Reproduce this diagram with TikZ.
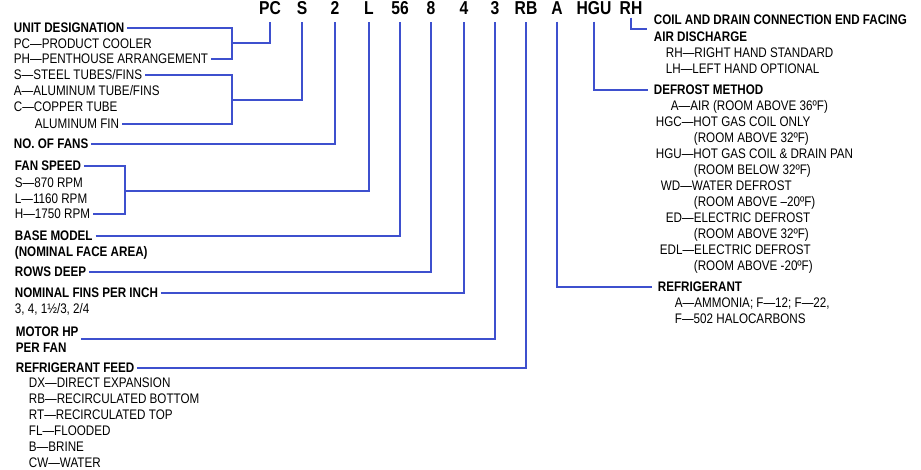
\documentclass[tikz,border=0pt]{standalone}
\usepackage{fontspec}
\setmainfont{Liberation Sans}[FakeStretch=0.84]
\usepackage{tikz}
\usetikzlibrary{calc}
\definecolor{LeadBlue}{RGB}{62,80,206}

\begin{document}
\begin{tikzpicture}[x=0.75pt, y=-0.75pt,
    every node/.style={font=\fontsize{10.4}{12}\selectfont, inner sep=0pt, text height=7.45pt, text depth=0pt},
    item/.style={anchor=west, outer xsep=2.2pt},
    head/.style={item, font=\fontsize{10.4}{12}\selectfont\bfseries},
    code/.style={anchor=base, font=\fontsize{14}{16}\selectfont\bfseries, outer ysep=5pt},
    lead/.style={draw=LeadBlue, line width=1.4pt}]
\useasboundingbox (0,0) rectangle (921,470);
% model number
\foreach \x/\lab/\nm in {270/PC/pcCode, 302/S/sCode, 335/2/twoCode, 369/L/lCode,
    400/56/fsCode, 431/8/eightCode, 464/4/fourCode, 495/3/threeCode,
    526/RB/rbCode, 557/A/aCode, 594/HGU/hguCode, 631/RH/rhCode}
    \node[code] (\nm) at (\x,15) {\lab};
% left column
\node[head] (unitHead) at (11,28) {UNIT DESIGNATION};
\node[item] (pcItem) at (11,44) {PC—PRODUCT COOLER};
\node[item] (phItem) at (11,59) {PH—PENTHOUSE ARRANGEMENT};
\node[item] (steelItem) at (11,75) {S—STEEL TUBES/FINS};
\node[item] (aluItem) at (11,91) {A—ALUMINUM TUBE/FINS};
\node[item] (copperItem) at (11,107) {C—COPPER TUBE};
\node[item] (finItem) at (32,124) {ALUMINUM FIN};
\node[head] (fansHead) at (11,144) {NO. OF FANS};
\node[head] (speedHead) at (12,166) {FAN SPEED};
\node[item] (sItem) at (12,183) {S—870 RPM};
\node[item] (lItem) at (12,199) {L—1160 RPM};
\node[item] (hItem) at (12,214) {H—1750 RPM};
\node[head] (baseHead) at (12,236) {BASE MODEL};
\node[head] (areaHead) at (12,252) {(NOMINAL FACE AREA)};
\node[head] (rowsHead) at (12,272) {ROWS DEEP};
\node[head] (finsHead) at (12,293) {NOMINAL FINS PER INCH};
\node[item] (finsItem) at (12,309) {3, 4, 1½/3, 2/4};
\node[head] (motorHead) at (13,332) {MOTOR HP};
\node[head] (perFanHead) at (13,348) {PER FAN};
\node[head] (feedHead) at (13,368) {REFRIGERANT FEED};
\foreach \y/\lab [count=\i] in {383/DX—DIRECT EXPANSION, 399/RB—RECIRCULATED BOTTOM,
    415/RT—RECIRCULATED TOP, 431/FL—FLOODED, 447/B—BRINE, 463/CW—WATER}
    \node[item] (feed\i) at (26,\y) {\lab};
% right column
\node[head] (coilHead) at (651,20) {COIL AND DRAIN CONNECTION END FACING};
\node[head] (dischHead) at (651,37) {AIR DISCHARGE};
\node[item] (rhItem) at (663,53) {RH—RIGHT HAND STANDARD};
\node[item] (lhItem) at (663,69) {LH—LEFT HAND OPTIONAL};
\node[head] (defrostHead) at (651,90) {DEFROST METHOD};
\node[item] (airItem) at (668,106) {A—AIR (ROOM ABOVE 36ºF)};
\node[item] (hgcItem) at (653,122) {HGC—HOT GAS COIL ONLY};
\node[item] (hgcRoom) at (691,138) {(ROOM ABOVE 32ºF)};
\node[item] (hguItem) at (653,154) {HGU—HOT GAS COIL \& DRAIN PAN};
\node[item] (hguRoom) at (691,170) {(ROOM BELOW 32ºF)};
\node[item] (wdItem) at (658,186) {WD—WATER DEFROST};
\node[item] (wdRoom) at (691,202) {(ROOM ABOVE –20ºF)};
\node[item] (edItem) at (663,218) {ED—ELECTRIC DEFROST};
\node[item] (edRoom) at (691,234) {(ROOM ABOVE 32ºF)};
\node[item] (edlItem) at (657,250) {EDL—ELECTRIC DEFROST};
\node[item] (edlRoom) at (691,266) {(ROOM ABOVE -20ºF)};
\node[head] (refrigHead) at (655,287) {REFRIGERANT};
\node[item] (ammoniaItem) at (672,303) {A—AMMONIA; F—12; F—22,};
\node[item] (haloItem) at (672,319) {F—502 HALOCARBONS};
% leads
\coordinate (pcJoin) at (232,43);
\coordinate (sJoin) at (232,100);
\coordinate (lJoin) at (125,191);
\draw[lead] (unitHead.east) -| (pcJoin) |- (phItem.east);
\draw[lead] (pcJoin) -| (pcCode.south);
\draw[lead] (steelItem.east) -| (sJoin) |- (finItem.east);
\draw[lead] (sJoin) -| (sCode.south);
\draw[lead] (fansHead.east) -| (twoCode.south);
\draw[lead] (speedHead.east) -| (lJoin) |- (hItem.east);
\draw[lead] (lJoin) -| (lCode.south);
\draw[lead] (baseHead.east) -| (fsCode.south);
\draw[lead] (rowsHead.east) -| (eightCode.south);
\draw[lead] (finsHead.east) -| (fourCode.south);
\draw[lead] ([yshift=-5.5pt]motorHead.east) -| (threeCode.south);
\draw[lead] (feedHead.east) -| (rbCode.south);
\draw[lead] (aCode.south) |- ([xshift=-2pt]refrigHead.west);
\draw[lead] (hguCode.south) |- ([xshift=-2pt]defrostHead.west);
\draw[lead] ([yshift=3pt]rhCode.south) |- ([xshift=-3pt, yshift=-7pt]coilHead.west);
\end{tikzpicture}
\end{document}
